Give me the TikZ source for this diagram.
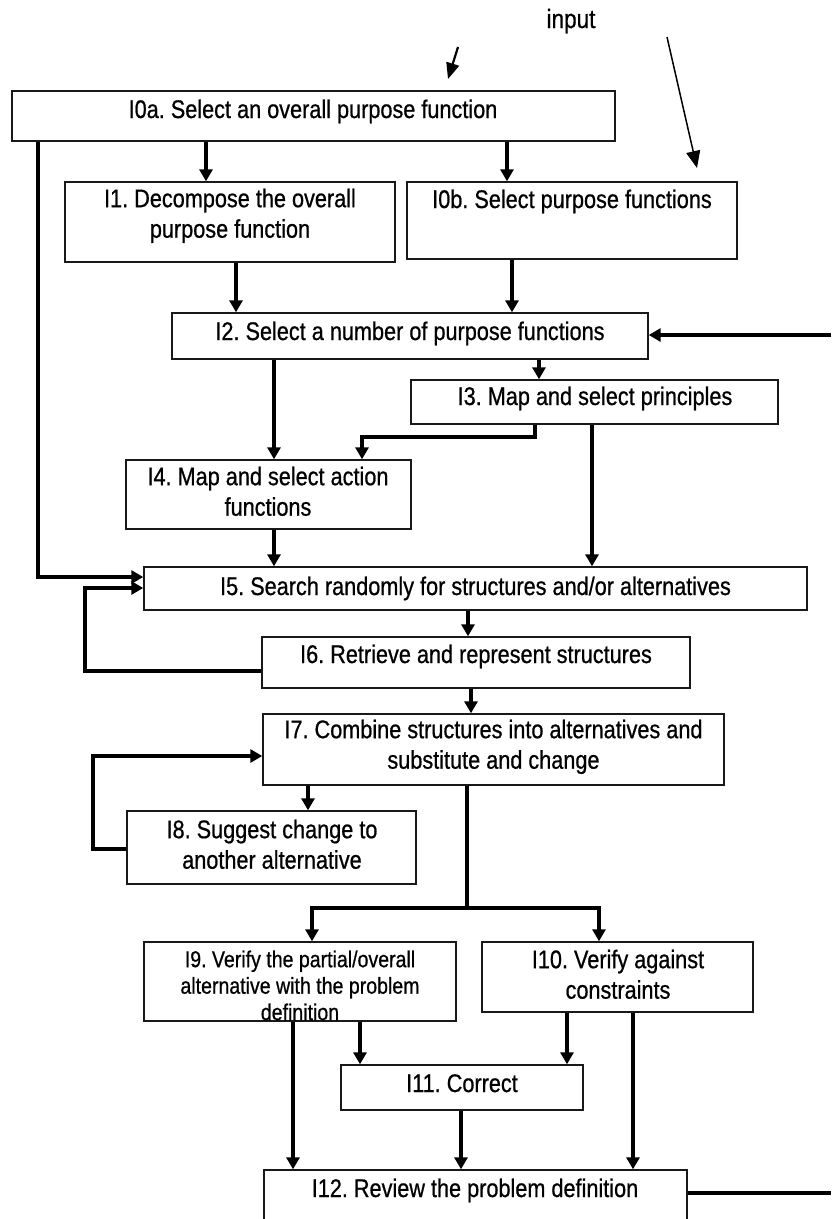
\documentclass[tikz,border=0pt]{standalone}
\usepackage{fontspec}
\setmainfont{Liberation Sans}[FakeStretch=0.85,FakeBold=0.7]
\usetikzlibrary{arrows.meta,fit}
\frenchspacing
\tikzset{
  box/.style={draw=black!90, line width=1.4pt, fill=white, inner sep=0pt},
  txt/.style={inner sep=0pt, font=\fontsize{25.5}{30.5}\selectfont, align=center},
  smalltxt/.style={inner sep=0pt, font=\fontsize{23}{26.5}\selectfont, align=center},
  conn/.style={line width=4.5pt, -{Triangle[width=13pt,length=12pt]}},
  plainconn/.style={line width=4.5pt},
  inarrow/.style={line width=2.2pt, -{Triangle[width=13pt,length=16pt]}},
  thinarrow/.style={line width=1.5pt, -{Triangle[width=14pt,length=17pt]}}
}
\newcommand\mkbox[5]{\node[box, fit={(#2,#3) (#4,#5)}] (#1) {};}
\begin{document}
\begin{tikzpicture}[x=1pt,y=-1pt]
\useasboundingbox (0,0) rectangle (831,1219);
% boxes
\mkbox{i0a}{12}{91}{615}{141}
\mkbox{i1}{65}{182}{395}{262}
\mkbox{i0b}{407}{182}{737}{259}
\mkbox{i2}{172}{313}{648}{359}
\mkbox{i3}{411}{380}{778}{424}
\mkbox{i4}{126}{460}{411}{529}
\mkbox{i5}{144}{567}{807}{610}
\mkbox{i6}{262}{637}{690}{688}
\mkbox{i7}{263}{714}{724}{785}
\mkbox{i8}{127}{811}{416}{884}
\mkbox{i9}{144}{942}{456}{1021}
\mkbox{i10}{482}{942}{753}{1012}
\mkbox{i11}{341}{1065}{583}{1110}
\mkbox{i12}{264}{1170}{687}{1230}
% texts
\node[txt, font=\fontsize{26.5}{30}\selectfont, anchor=base] (tin) at (571,28) {input};
\node[txt, anchor=base] (t0a) at (313,118) {I0a. Select an overall purpose function};
\node[txt, anchor=north] (t1) at (230,188.5) {I1. Decompose the overall\\purpose function};
\node[txt, anchor=base] (t0b) at (572,208) {I0b. Select purpose functions};
\node[txt, anchor=base] (t2) at (410,340) {I2. Select a number of purpose functions};
\node[txt, anchor=base] (t3) at (595,405) {I3. Map and select principles};
\node[txt, anchor=north] (t4) at (268,466.5) {I4. Map and select action\\functions};
\node[txt, anchor=base] (t5) at (475.5,595) {I5. Search randomly for structures and/or alternatives};
\node[txt, anchor=base] (t6) at (476,663) {I6. Retrieve and represent structures};
\node[txt, anchor=north] (t7) at (493.5,719.5) {I7. Combine structures into alternatives and\\substitute and change};
\node[txt, anchor=north] (t8) at (272,819.5) {I8. Suggest change to\\another alternative};
\node[smalltxt, anchor=north] (t9) at (300,950.3) {I9. Verify the partial/overall\\alternative with the problem\\definition};
\node[txt, anchor=north] (t10) at (618,949.5) {I10. Verify against\\constraints};
\node[txt, anchor=base] (t11) at (462,1092) {I11. Correct};
\node[txt, anchor=base] (t12) at (475,1197) {I12. Review the problem definition};
% free ends
\coordinate (s1) at (458,47);
\coordinate (e1) at (448,79);
\coordinate (s2) at (667,37);
\coordinate (e2) at (697,168);
\coordinate (inR) at (831,335);
\coordinate (outR) at (831,1193);
% input arrows
\draw[inarrow] (s1) -- (e1);
\draw[thinarrow] (s2) -- (e2);
% connectors
\draw[conn] (i0a.south -| 206,0) -- (i1.north -| 206,0);
\draw[conn] (i0a.south -| 507,0) -- (i0b.north -| 507,0);
\draw[conn] (i0a.south -| 38,0) -- (38,577) -- (i5.west |- 0,577);
\draw[conn] (i1.south -| 236,0) -- (i2.north -| 236,0);
\draw[conn] (i0b.south -| 512,0) -- (i2.north -| 512,0);
\draw[conn] (inR) -- (i2.east |- inR);
\draw[conn] (i2.south -| 539,0) -- (i3.north -| 539,0);
\draw[conn] (i2.south -| 274,0) -- (i4.north -| 274,0);
\draw[conn] (i3.south -| 535,0) -- (535,437) -- (362,437) -- (i4.north -| 362,0);
\draw[conn] (i3.south -| 592,0) -- (i5.north -| 592,0);
\draw[conn] (i4.south -| 274,0) -- (i5.north -| 274,0);
\draw[conn] (i5.south -| 468,0) -- (i6.north -| 468,0);
\draw[conn] (i6.west |- 0,671) -- (85,671) -- (85,588) -- (i5.west |- 0,588);
\draw[conn] (i6.south -| 471,0) -- (i7.north -| 471,0);
\draw[conn] (i7.south -| 308,0) -- (i8.north -| 308,0);
\draw[conn] (i8.west |- 0,849) -- (93,849) -- (93,756) -- (i7.west |- 0,756);
\draw[conn] (i7.south -| 467,0) -- (467,908) -| (i9.north -| 312,0);
\draw[conn] (467,908) -| (i10.north -| 599,0);
\draw[conn] (i9.south -| 293,0) -- (i12.north -| 293,0);
\draw[conn] (i9.south -| 360,0) -- (i11.north -| 360,0);
\draw[conn] (i10.south -| 567,0) -- (i11.north -| 567,0);
\draw[conn] (i10.south -| 633,0) -- (i12.north -| 633,0);
\draw[conn] (i11.south -| 461,0) -- (i12.north -| 461,0);
\draw[plainconn] (i12.east |- outR) -- (outR);
\end{tikzpicture}
\end{document}
